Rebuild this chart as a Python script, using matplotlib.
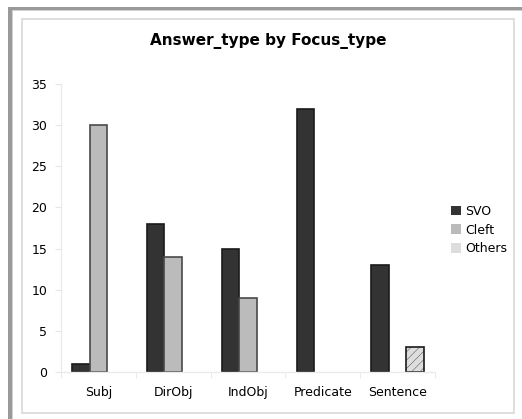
import numpy as np
import matplotlib
matplotlib.use('Agg')
import matplotlib.pyplot as plt
from matplotlib.patches import Rectangle

# counts per focus type
focus_types = ['Subj', 'DirObj', 'IndObj', 'Predicate', 'Sentence']
svo = [1, 18, 15, 32, 13]
cleft = [30, 14, 9, 0, 0]
others = [0, 0, 0, 0, 3]
series_names = ['SVO', 'Cleft', 'Others']

W, H = 522, 419
fig = plt.figure(figsize=(W / 100, H / 100), dpi=100)
fig.patch.set_facecolor('white')


def px_rect(x0, y0, x1, y1, **kw):
    # rectangle given in pixel coords (origin top-left)
    fig.add_artist(Rectangle((x0 / W, 1 - y1 / H), (x1 - x0) / W, (y1 - y0) / H,
                             transform=fig.transFigure, **kw))


def nz(vals):
    # empty cells get no bar at all
    return np.where(np.array(vals) == 0, np.nan, np.array(vals, dtype=float))


# outer window frame
px_rect(8, 7, W + 5, 10, facecolor='#9a9a9a', edgecolor='none')
px_rect(8, 7, 12, H + 5, facecolor='#9a9a9a', edgecolor='none')
px_rect(12, 10, W + 5, 11, facecolor='#d0d0d0', edgecolor='none')
px_rect(12, 10, 13, H + 5, facecolor='#d0d0d0', edgecolor='none')
# inner chart border
px_rect(22, 19, 514, 413, facecolor='none', edgecolor='#d8d8d8', linewidth=1.2)

ax = fig.add_axes([61 / W, 1 - 372 / H, (435 - 61) / W, (372 - 84) / H])

x = np.arange(len(focus_types))
bw = 0.233
plt.rcParams['hatch.color'] = '#d4d4d4'
plt.rcParams['hatch.linewidth'] = 0.25
ax.bar(x - bw, nz(svo), bw, color='#333333', edgecolor='#1a1a1a', linewidth=1.2, label=series_names[0])
ax.bar(x, nz(cleft), bw, color='#bbbbbb', edgecolor='#4a4a4a', linewidth=1.2, label=series_names[1])
ax.bar(x + bw, nz(others), bw, color='#dddddd', edgecolor='#1a1a1a', linewidth=1.2,
       hatch='////', label=series_names[2])

ax.set_xlim(-0.5, len(focus_types) - 0.5)
ax.set_ylim(0, 35)
ax.set_yticks(range(0, 36, 5))
ax.set_xticks(x)
ax.set_xticklabels(focus_types)
ax.set_xticks(np.arange(-0.5, len(focus_types)), minor=True)
ax.tick_params(axis='x', which='major', length=0, pad=10, labelsize=9)
ax.tick_params(axis='x', which='minor', length=4, color='#e6e6e6')
ax.tick_params(axis='y', length=4, color='#e6e6e6', labelsize=9, pad=6)

for s in ['top', 'right']:
    ax.spines[s].set_visible(False)
for s in ['left', 'bottom']:
    ax.spines[s].set_color('#ebebeb')
    ax.spines[s].set_linewidth(1)

fig.text(268 / W, 1 - 41 / H, 'Answer_type by Focus_type', ha='center', va='center',
         fontsize=11, fontweight='bold')

handles, labels = ax.get_legend_handles_labels()
leg = fig.legend(handles, labels, loc='upper left', bbox_to_anchor=(446 / W, 1 - 200 / H),
                 frameon=False, fontsize=9, handlelength=0.8, handleheight=0.8,
                 handletextpad=0.3, labelspacing=0.45, borderaxespad=0)
for h in leg.legend_handles:
    h.set_edgecolor('none')
    h.set_hatch(None)

fig.savefig('out.png', dpi=100)
